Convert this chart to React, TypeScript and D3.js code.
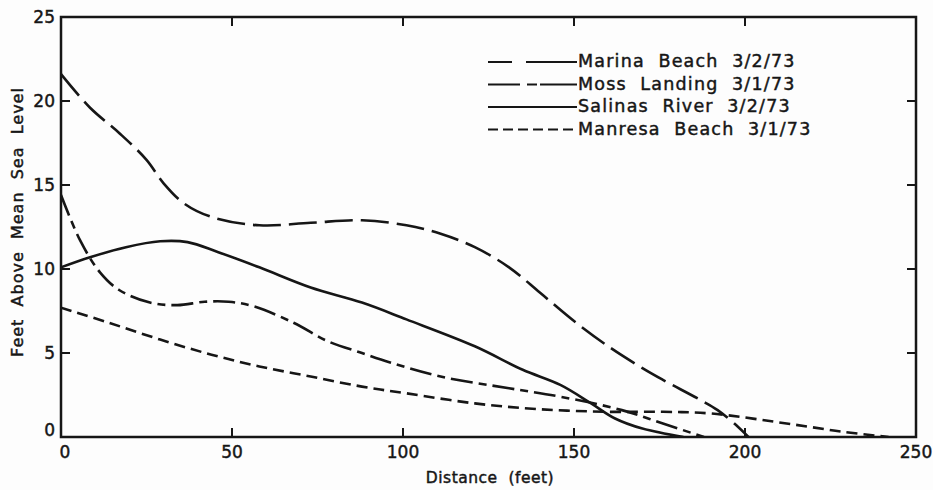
import React, { useEffect, useRef } from "react";
import * as d3 from "d3";

const xTicks = [0, 50, 100, 150, 200, 250];
const yTicks = [0, 5, 10, 15, 20, 25];

const marinaBeach: [number, number][] = [
  [0, 21.6], [8.5, 19.6], [17, 18.1], [25, 16.5], [30, 15.1], [36, 13.9], [44, 13.1],
  [58, 12.6], [73, 12.75], [88, 12.9], [101, 12.6], [111, 12.1], [121, 11.3], [131, 10.1],
  [140, 8.6], [150, 6.9], [160, 5.4], [170, 4.1], [176, 3.4], [187, 2.2], [192, 1.6],
  [198, 0.6], [201, 0],
];
const mossLanding: [number, number][] = [
  [0, 14.4], [5.6, 11.7], [11.4, 9.8], [17, 8.75], [26, 8.0], [34, 7.85], [42, 8.05],
  [49, 8.05], [56, 7.8], [68, 6.8], [78, 5.7], [88, 5.0], [96, 4.45], [111, 3.6],
  [131, 2.9], [146, 2.4], [164, 1.6], [176, 0.8], [188, 0],
];
const salinasRiver: [number, number][] = [
  [0, 10.1], [8.5, 10.7], [19, 11.3], [29, 11.65], [37, 11.6], [46, 11.0], [58, 10.1],
  [73, 8.9], [88, 8.0], [101, 7.0], [121, 5.4], [135, 4.0], [146, 3.1], [155, 2.0],
  [162, 1.1], [170, 0.5], [182, 0],
];
const manresaBeach: [number, number][] = [
  [0, 7.7], [14, 6.8], [29, 5.8], [44, 4.9], [58, 4.2], [73, 3.6], [88, 3.0], [101, 2.6],
  [121, 2.0], [140, 1.65], [160, 1.5], [176, 1.5], [190, 1.4], [214, 0.75], [229, 0.3],
  [242, 0],
];

const seriesNames = [
  "Marina  Beach  3/2/73",
  "Moss  Landing  3/1/73",
  "Salinas  River  3/2/73",
  "Manresa  Beach  3/1/73",
];
const seriesData = [marinaBeach, mossLanding, salinasRiver, manresaBeach];
const seriesDash = ["28,8", "22,6,8,6", "", "11,6"];
const legendDash = ["24,14,60", "32,7,10,3,60", "", "10,5"];

const W = 933;
const H = 490;
const margin = { left: 61, right: 17, top: 17, bottom: 53 };
const FONT = "'DejaVu Sans', sans-serif";
const INK = "#161616";

export default function App() {
  const ref = useRef<SVGSVGElement>(null);

  useEffect(() => {
    const svg = d3.select(ref.current);
    svg.selectAll("*").remove();

    const x = d3.scaleLinear().domain([0, 250]).range([margin.left, W - margin.right]);
    const y = d3.scaleLinear().domain([0, 25]).range([H - margin.bottom, margin.top]);

    svg.append("rect").attr("width", W).attr("height", H).attr("fill", "#fdfdfd");

    svg.append("defs").append("clipPath").attr("id", "plotclip")
      .append("rect").attr("x", x(0)).attr("y", y(25))
      .attr("width", x(250) - x(0)).attr("height", y(0) - y(25));

    const g = svg.append("g");

    const txt = (sel: any, size: number) =>
      sel.attr("font-family", FONT).attr("font-size", size).attr("fill", INK)
        .attr("stroke", INK).attr("stroke-width", 0.45);

    // curves
    const line = d3.line<[number, number]>()
      .x((d) => x(d[0])).y((d) => y(d[1]))
      .curve(d3.curveCatmullRom.alpha(0.5));

    const curves = g.append("g").attr("clip-path", "url(#plotclip)");
    seriesData.forEach((data, i) => {
      curves.append("path").attr("d", line(data) as string).attr("fill", "none")
        .attr("stroke", INK).attr("stroke-width", 2.6)
        .attr("stroke-dasharray", seriesDash[i] || null);
    });

    // frame
    g.append("rect")
      .attr("x", x(0)).attr("y", y(25))
      .attr("width", x(250) - x(0)).attr("height", y(0) - y(25))
      .attr("fill", "none").attr("stroke", INK).attr("stroke-width", 2.5);

    const tl = 9;
    xTicks.slice(1, -1).forEach((t) => {
      g.append("line").attr("x1", x(t)).attr("x2", x(t)).attr("y1", y(0)).attr("y2", y(0) - tl)
        .attr("stroke", INK).attr("stroke-width", 2);
      g.append("line").attr("x1", x(t)).attr("x2", x(t)).attr("y1", y(25)).attr("y2", y(25) + tl)
        .attr("stroke", INK).attr("stroke-width", 2);
    });
    yTicks.slice(1, -1).forEach((t) => {
      g.append("line").attr("x1", x(0)).attr("x2", x(0) + tl).attr("y1", y(t)).attr("y2", y(t))
        .attr("stroke", INK).attr("stroke-width", 2);
      g.append("line").attr("x1", x(250)).attr("x2", x(250) - tl).attr("y1", y(t)).attr("y2", y(t))
        .attr("stroke", INK).attr("stroke-width", 2);
    });

    // tick labels
    xTicks.forEach((t) => {
      txt(g.append("text").attr("x", x(t) + (t === 0 ? 4 : 0)).attr("y", y(0) + 21)
        .attr("text-anchor", "middle"), 17).text(String(t));
    });
    yTicks.forEach((t) => {
      txt(g.append("text").attr("x", x(0) - 6).attr("y", y(t) + (t === 0 ? -1 : 6))
        .attr("text-anchor", "end"), 17).text(String(t));
    });

    // axis titles
    txt(g.append("text").attr("x", 490).attr("y", 483).attr("text-anchor", "middle")
      .attr("style", "white-space: pre").attr("letter-spacing", 0.5), 15.5).text("Distance  (feet)");
    txt(g.append("text").attr("transform", `translate(23, 222) rotate(-90)`).attr("text-anchor", "middle")
      .attr("style", "white-space: pre").attr("letter-spacing", 1), 16).text("Feet  Above  Mean  Sea  Level");

    // legend
    const lx0 = 488, lx1 = 577;
    seriesNames.forEach((name, i) => {
      const by = 67 + i * 22.5;
      g.append("line").attr("x1", lx0).attr("x2", lx1).attr("y1", by - 5).attr("y2", by - 5)
        .attr("stroke", INK).attr("stroke-width", 2)
        .attr("stroke-dasharray", legendDash[i] || null);
      txt(g.append("text").attr("x", lx1 + 1).attr("y", by)
        .attr("style", "white-space: pre").attr("letter-spacing", 1.2), 17.5).text(name);
    });
  }, []);

  return (
    <svg ref={ref} width={W} height={H} style={{ position: "absolute", left: 0, top: 0 }} />
  );
}
